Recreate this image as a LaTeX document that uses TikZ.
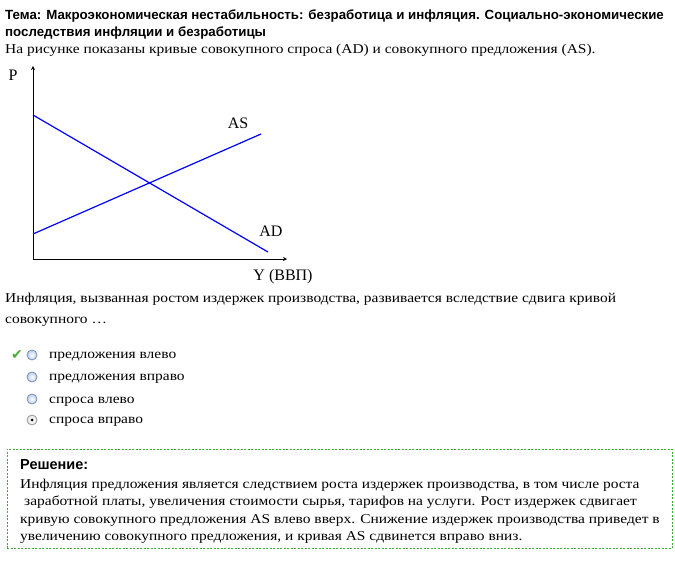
\documentclass[tikz,border=0pt]{standalone}
\usepackage{fontspec}
\setmainfont{Liberation Serif}
\newfontfamily\bodyfont{Liberation Serif}[FakeStretch=1.145]
\newfontfamily\headfont{Liberation Sans}
\newfontfamily\symfont{DejaVu Sans}
\usetikzlibrary{arrows}

\definecolor{tickgreen}{RGB}{80,170,60}
\definecolor{boxgreen}{RGB}{60,170,50}
\definecolor{radioedge}{RGB}{120,145,185}
\definecolor{radiofill}{RGB}{185,205,235}

\begin{document}
\begin{tikzpicture}[x=1pt, y=-1pt,
        % styles
        heading/.style = {
                anchor=base west, inner sep=0pt,
                font=\headfont\bfseries\fontsize{13.3}{15}\selectfont
            },
        bodytext/.style = {
                anchor=base west, inner sep=0pt,
                font=\bodyfont\fontsize{13.5}{15}\selectfont
            },
        graphtext/.style = {
                inner sep=0pt, font=\fontsize{16}{18}\selectfont
            },
        curve/.style = {
                draw=blue, line width=1.2pt
            },
        axis/.style = {
                draw=black, line width=0.8pt, ->, >=stealth
            },
        radio/.style = {
                circle, minimum size=10pt, inner sep=0pt, line width=0.8pt,
                draw=radioedge, inner color=white, outer color=radiofill
            },
        solution/.style = {
                draw=boxgreen, line width=0.9pt, dash pattern=on 2pt off 1.5pt,
                minimum width=665pt, minimum height=99pt, inner sep=0pt
            }]

    \useasboundingbox (0,0) rectangle (675,561);

    % heading and task
    \node (topic1) [heading] at (5,20) {Тема: Макроэкономическая нестабильность: безработица и инфляция. Социально-экономические};
    \node (topic2) [heading] at (5,37) {последствия инфляции и безработицы};
    \node (intro) [bodytext] at (5,54) {На рисунке показаны кривые совокупного спроса (AD) и совокупного предложения (AS).};

    % graph
    \coordinate (origin) at (33,259);
    \coordinate (ytip) at (33,66);
    \coordinate (xtip) at (287,259);
    \coordinate (ad_top) at (33,115);
    \coordinate (ad_end) at (268,252);
    \coordinate (as_low) at (33,234);
    \coordinate (as_end) at (261,134);
    \node (p_lbl) [graphtext] at (13,75) {P};
    \node (as_lbl) [graphtext] at (238,123) {AS};
    \node (ad_lbl) [graphtext] at (271,231) {AD};
    \node (y_lbl) [graphtext] at (283,277) {Y (ВВП)};

    % question and answers
    \node (question1) [bodytext] at (5,303) {Инфляция, вызванная ростом издержек производства, развивается вследствие сдвига кривой};
    \node (question2) [bodytext] at (5,324) {совокупного …};
    \node (tick) [text=tickgreen, font=\symfont\fontsize{14}{14}\selectfont, inner sep=0pt] at (17,355) {✔};
    \node (radio1) [radio] at (32,355) {};
    \node (radio2) [radio] at (32,377) {};
    \node (radio3) [radio] at (32,399) {};
    \node (radio4) [radio, draw=gray!80, outer color=gray!20] at (32,420) {};
    \node (answer1) [bodytext] at (49,359) {предложения влево};
    \node (answer2) [bodytext] at (49,381) {предложения вправо};
    \node (answer3) [bodytext] at (49,403) {спроса влево};
    \node (answer4) [bodytext] at (49,424) {спроса вправо};
    \fill (radio4.center) circle (1.5pt);

    % solution
    \node (solbox) [solution] at (339.5,498.5) {};
    \node (solhead) [heading, font=\headfont\bfseries\fontsize{14.5}{16}\selectfont] at (20,469) {Решение:};
    \node (sol1) [bodytext] at (20,488) {Инфляция предложения является следствием роста издержек производства, в том числе роста};
    \node (sol2) [bodytext] at (24,505) {заработной платы, увеличения стоимости сырья, тарифов на услуги. Рост издержек сдвигает};
    \node (sol3) [bodytext] at (20,523) {кривую совокупного предложения AS влево вверх. Снижение издержек производства приведет в};
    \node (sol4) [bodytext] at (20,540) {увеличению совокупного предложения, и кривая AS сдвинется вправо вниз.};

    % % arrows
    \draw [axis] (origin) -- (ytip);
    \draw [axis] (origin) -- (xtip);
    \draw [curve] (ad_top) -- (ad_end);
    \draw [curve] (as_low) -- (as_end);
\end{tikzpicture}
\end{document}
